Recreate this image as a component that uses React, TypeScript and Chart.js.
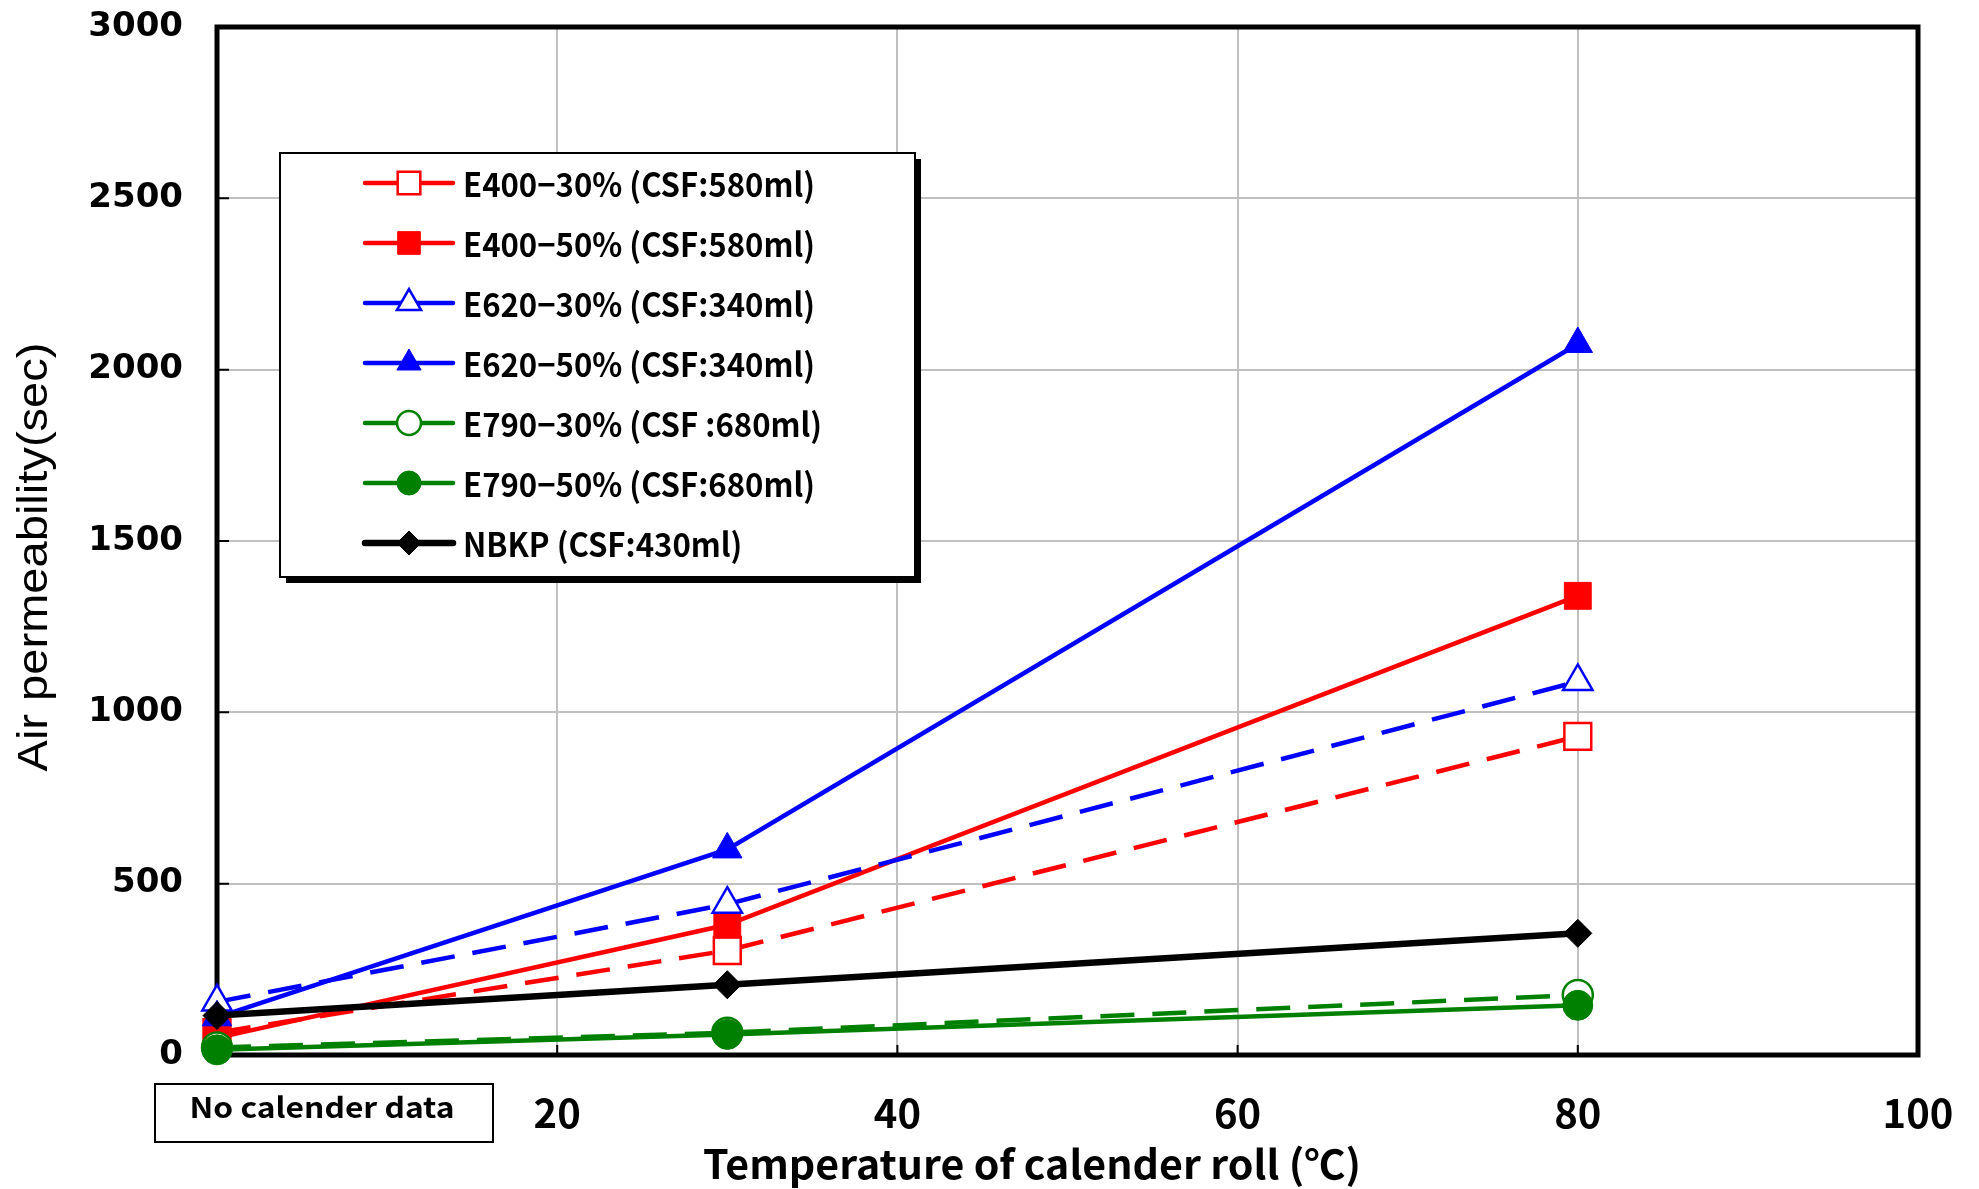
import React, { useEffect, useRef } from 'react';
import { Chart, registerables } from 'chart.js';

Chart.register(...registerables);

// ---------- data ----------
const temperatures = [0, 30, 80];
const e400_30 = [65, 305, 930];
const e400_50 = [50, 380, 1340];
const e620_30 = [155, 440, 1090];
const e620_50 = [110, 600, 2075];
const e790_30 = [22, 65, 175];
const e790_50 = [15, 60, 145];
const nbkp = [115, 205, 355];

const seriesLabels = [
  'E400−30% (CSF:580ml)',
  'E400−50% (CSF:580ml)',
  'E620−30% (CSF:340ml)',
  'E620−50% (CSF:340ml)',
  'E790−30% (CSF :680ml)',
  'E790−50% (CSF:680ml)',
  'NBKP (CSF:430ml)',
];
const seriesValues = [e400_30, e400_50, e620_30, e620_50, e790_30, e790_50, nbkp];

const yMin = 0;
const yMax = 3000;
const yStep = 500;
const xMin = 0;
const xMax = 100;
const xStep = 20;

const xAxisTitle = 'Temperature of calender roll (℃)';
const yAxisTitle = 'Air permeability(sec)';
const noDataLabel = 'No calender data';

// ---------- styles ----------
type Style = { color: string; dashed: boolean; shape: string; filled: boolean; r: number; lr: number; lw: number };
const seriesStyles: Style[] = [
  { color: '#ff0000', dashed: true, shape: 'rect', filled: false, r: 19, lr: 16, lw: 4.5 },
  { color: '#ff0000', dashed: false, shape: 'rect', filled: true, r: 19, lr: 16, lw: 4.5 },
  { color: '#0000ff', dashed: true, shape: 'triangle', filled: false, r: 17, lr: 14, lw: 4.5 },
  { color: '#0000ff', dashed: false, shape: 'triangle', filled: true, r: 17, lr: 14, lw: 4.5 },
  { color: '#008000', dashed: true, shape: 'circle', filled: false, r: 15, lr: 12, lw: 4.5 },
  { color: '#008000', dashed: false, shape: 'circle', filled: true, r: 15, lr: 12, lw: 4.5 },
  { color: '#000000', dashed: false, shape: 'rectRot', filled: true, r: 14, lr: 12, lw: 6.5 },
];

const CJK = '"Noto Sans CJK JP", "Noto Sans", sans-serif';

function drawMarker(ctx: CanvasRenderingContext2D, shape: string, x: number, y: number, r: number, color: string, filled: boolean) {
  ctx.beginPath();
  if (shape === 'rect') {
    const s = r * Math.SQRT1_2;
    ctx.rect(x - s, y - s, 2 * s, 2 * s);
  } else if (shape === 'triangle') {
    ctx.moveTo(x, y - r);
    ctx.lineTo(x + r * Math.sin((2 * Math.PI) / 3), y - r * Math.cos((2 * Math.PI) / 3));
    ctx.lineTo(x + r * Math.sin((4 * Math.PI) / 3), y - r * Math.cos((4 * Math.PI) / 3));
    ctx.closePath();
  } else if (shape === 'circle') {
    ctx.arc(x, y, r, 0, Math.PI * 2);
  } else {
    ctx.moveTo(x - r, y);
    ctx.lineTo(x, y - r);
    ctx.lineTo(x + r, y);
    ctx.lineTo(x, y + r);
    ctx.closePath();
  }
  ctx.fillStyle = filled ? color : '#ffffff';
  ctx.fill();
  ctx.strokeStyle = color;
  ctx.lineWidth = filled ? 1 : 2.5;
  ctx.setLineDash([]);
  ctx.stroke();
}

function fitText(ctx: CanvasRenderingContext2D, text: string, font: string, cx: number, cy: number, targetW: number, rotate = 0, align: CanvasTextAlign = 'center') {
  ctx.save();
  ctx.font = font;
  const w = ctx.measureText(text).width;
  const sx = targetW / w;
  ctx.translate(cx, cy);
  if (rotate) ctx.rotate(rotate);
  ctx.scale(sx, 1);
  ctx.fillStyle = '#000';
  ctx.textAlign = align;
  ctx.textBaseline = 'middle';
  ctx.fillText(text, 0, 0);
  ctx.restore();
}

const decorPlugin = {
  id: 'decor',
  beforeDatasetsDraw(chart: any) {
    const { ctx, chartArea: a, scales } = chart;
    ctx.save();
    ctx.strokeStyle = '#000';
    ctx.lineWidth = 2;
    ctx.beginPath();
    for (let v = yMin + yStep; v < yMax; v += yStep) {
      const y = scales.y.getPixelForValue(v);
      ctx.moveTo(a.left, y);
      ctx.lineTo(a.left + 12, y);
    }
    for (let v = xMin + xStep; v < xMax; v += xStep) {
      const x = scales.x.getPixelForValue(v);
      ctx.moveTo(x, a.bottom);
      ctx.lineTo(x, a.bottom - 10);
    }
    ctx.stroke();
    ctx.lineWidth = 5;
    ctx.strokeRect(a.left, a.top, a.right - a.left, a.bottom - a.top);
    ctx.restore();
  },
  afterDatasetsDraw(chart: any) {
    const { ctx } = chart;
    ctx.save();
    // legend box with shadow
    const L = 280, T = 153, R = 915, B = 577;
    ctx.fillStyle = '#000';
    ctx.fillRect(L + 6, T + 6, R - L, B - T);
    ctx.fillStyle = '#fff';
    ctx.fillRect(L, T, R - L, B - T);
    ctx.strokeStyle = '#000';
    ctx.lineWidth = 2;
    ctx.strokeRect(L, T, R - L, B - T);

    const legendFont = `bold 33px ${CJK}`;
    ctx.font = legendFont;
    const legendScale = 352 / ctx.measureText(seriesLabels[0]).width;
    seriesLabels.forEach((label, i) => {
      const st = seriesStyles[i];
      const y = 183 + 60 * i;
      ctx.strokeStyle = st.color;
      ctx.lineWidth = st.lw;
      ctx.setLineDash([]);
      ctx.lineCap = 'round';
      ctx.beginPath();
      ctx.moveTo(365, y);
      ctx.lineTo(453, y);
      ctx.stroke();
      ctx.lineCap = 'butt';
      drawMarker(ctx, st.shape, 409, y, st.lr, st.color, st.filled);
      ctx.save();
      ctx.font = legendFont;
      ctx.translate(463, y + 1);
      ctx.scale(legendScale, 1);
      ctx.fillStyle = '#000';
      ctx.textAlign = 'left';
      ctx.textBaseline = 'middle';
      ctx.fillText(label, 0, 0);
      ctx.restore();
    });

    // "No calender data" box
    ctx.strokeStyle = '#000';
    ctx.lineWidth = 2;
    ctx.strokeRect(155, 1084, 338, 58);
    fitText(ctx, noDataLabel, `bold 28px ${CJK}`, 322, 1107, 265);

    // axis titles
    fitText(ctx, xAxisTitle, `bold 40px ${CJK}`, 1032, 1164, 658);
    fitText(ctx, yAxisTitle, `42px "Liberation Sans", Arial, sans-serif`, 35, 557, 429, -Math.PI / 2);
    ctx.restore();
  },
};

export default function App() {
  const ref = useRef<HTMLCanvasElement | null>(null);

  useEffect(() => {
    if (!ref.current) return;
    const datasets = seriesValues.map((vals, i) => {
      const st = seriesStyles[i];
      return {
        label: seriesLabels[i],
        data: temperatures.map((t, k) => ({ x: t, y: vals[k] })),
        borderColor: st.color,
        backgroundColor: st.color,
        borderWidth: st.lw,
        borderDash: st.dashed ? [34, 18] : [],
        pointStyle: st.shape,
        pointRadius: st.r,
        pointBackgroundColor: st.filled ? st.color : '#ffffff',
        pointBorderColor: st.color,
        pointBorderWidth: st.filled ? 1 : 2.5,
        tension: 0,
        clip: false as any,
        order: seriesValues.length - i,
      };
    });

    const chart = new Chart(ref.current, {
      type: 'line',
      data: { datasets },
      options: {
        responsive: false,
        animation: false,
        devicePixelRatio: 1,
        layout: { padding: 0 },
        plugins: { legend: { display: false }, tooltip: { enabled: false } },
        scales: {
          x: {
            type: 'linear',
            min: xMin,
            max: xMax,
            afterFit: (s: any) => { s.height = 134; s.paddingRight = 61; s.paddingLeft = 0; },
            ticks: {
              stepSize: xStep,
              padding: 34,
              maxRotation: 0,
              color: '#000',
              font: { family: CJK, weight: 'bold', size: 40 },
              callback: (v: any) => (v === 0 ? '' : String(v)),
            },
            grid: { color: '#c0c0c0', lineWidth: 2, drawTicks: false },
            border: { display: false },
          },
          y: {
            type: 'linear',
            min: yMin,
            max: yMax,
            afterFit: (s: any) => { s.width = 217; s.paddingTop = 27; s.paddingBottom = 0; },
            ticks: {
              stepSize: yStep,
              padding: 34,
              color: '#000',
              font: { family: '"DejaVu Sans"', weight: 'bold', size: 34 },
              callback: (v: any) => String(v),
            },
            grid: { color: '#c0c0c0', lineWidth: 2, drawTicks: false },
            border: { display: false },
          },
        },
      },
      plugins: [decorPlugin],
    });

    const fonts = (document as any).fonts;
    if (fonts && fonts.load) {
      Promise.all([
        fonts.load(`bold 32px "Noto Sans CJK JP"`),
        fonts.load(`bold 32px "DejaVu Sans"`),
        fonts.load(`32px "Liberation Sans"`),
      ]).then(() => chart.update()).catch(() => {});
    }

    return () => chart.destroy();
  }, []);

  return (
    <div style={{ position: 'fixed', left: 0, top: 0, width: 1979, height: 1189, background: '#fff' }}>
      <canvas ref={ref} width={1979} height={1189} style={{ display: 'block' }} />
    </div>
  );
}
